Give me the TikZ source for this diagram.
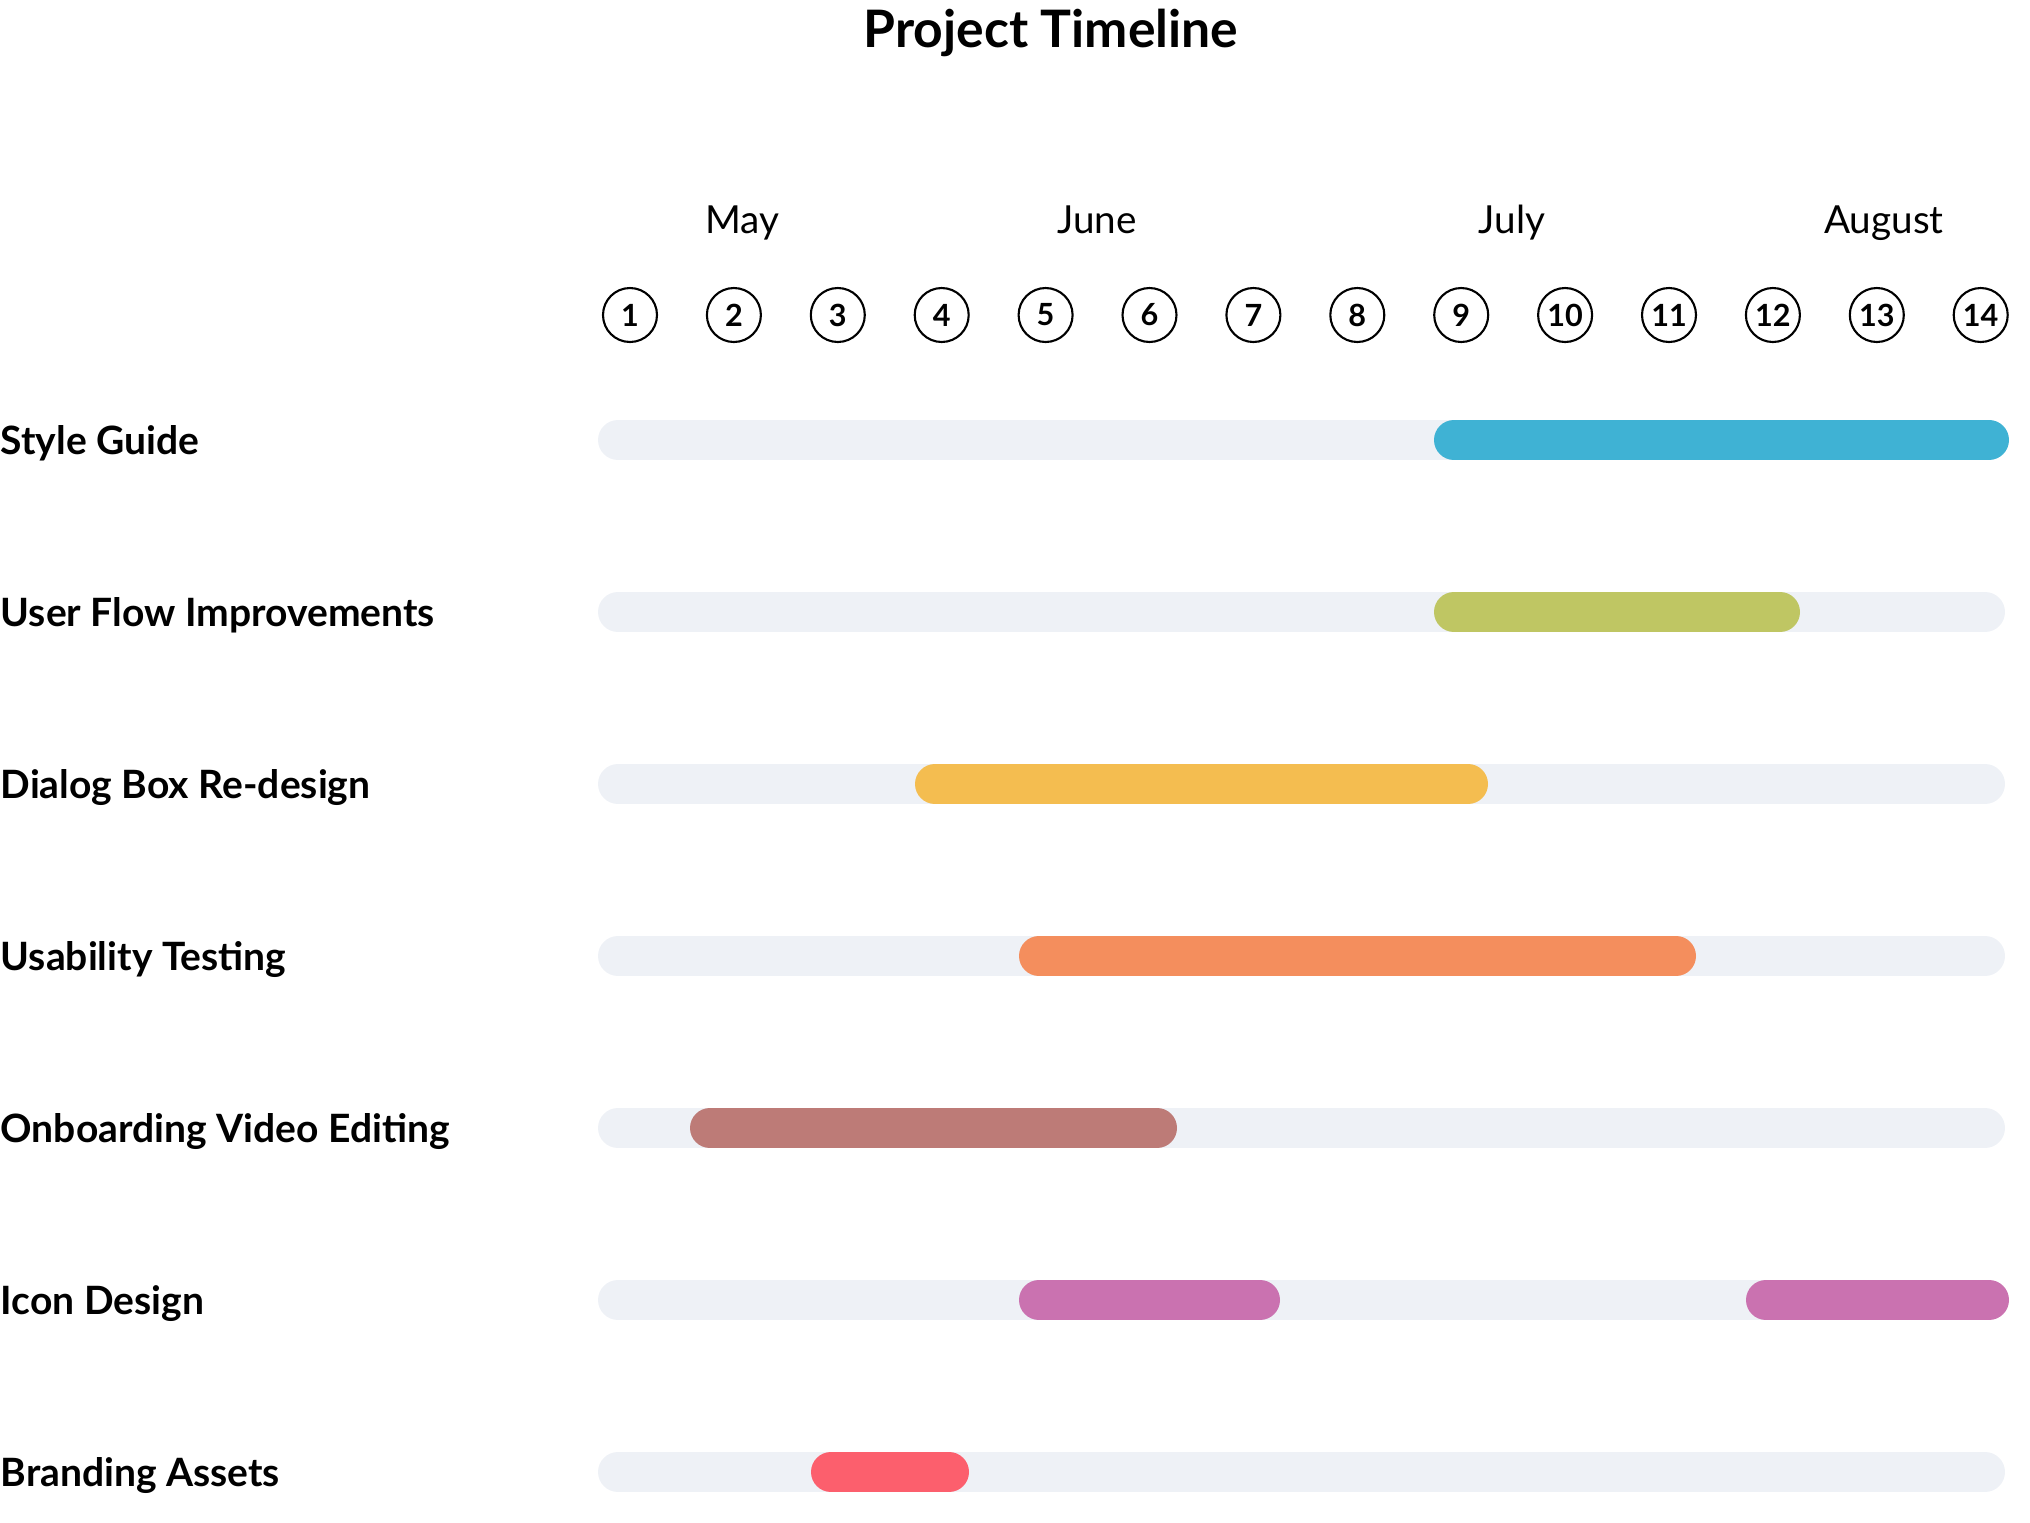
\documentclass[tikz,border=0pt]{standalone}
\usepackage{fontspec}
\setmainfont{Lato}
\definecolor{trackgray}{HTML}{EEF1F6}
\definecolor{sgblue}{HTML}{3FB2D4}
\definecolor{ufgreen}{HTML}{BFC663}
\definecolor{dbyellow}{HTML}{F4BD50}
\definecolor{utorange}{HTML}{F48E5D}
\definecolor{ovbrown}{HTML}{BD7B77}
\definecolor{idpink}{HTML}{CA72B0}
\definecolor{bared}{HTML}{FC5F6D}

\begin{document}
\begin{tikzpicture}[x=0.1mm,y=-0.1mm,
	week/.style={draw,shape=circle,line width=0.6pt,minimum size=5.4mm,inner sep=0pt,font=\bfseries\fontsize{8.7}{10}\selectfont},
	month/.style={anchor=base,font=\fontsize{11}{13}\selectfont},
	task/.style={anchor=base west,inner sep=0pt,font=\bfseries\fontsize{11.1}{14}\selectfont},
	track/.style={line width=4mm,line cap=round,color=trackgray},
	bar/.style={line width=4mm,line cap=round}]
	\useasboundingbox (0,0) rectangle (2030,1522);
	\draw (1051,33) node (title) [font=\bfseries\fontsize{14.7}{17}\selectfont] {Project Timeline};
	
	\draw (742,233) node (may) [month] {May};
	\draw (1097,233) node (june) [month] {June};
	\draw (1512,233) node (july) [month] {July};
	\draw (1884,233) node (aug) [month] {August};
	
	\draw (630,315) node (w1) [week] {1};
	\draw (733.9,315) node (w2) [week] {2};
	\draw (837.8,315) node (w3) [week] {3};
	\draw (941.7,315) node (w4) [week] {4};
	\draw (1045.6,315) node (w5) [week] {5};
	\draw (1149.5,315) node (w6) [week] {6};
	\draw (1253.4,315) node (w7) [week] {7};
	\draw (1357.3,315) node (w8) [week] {8};
	\draw (1461.2,315) node (w9) [week] {9};
	\draw (1565.1,315) node (w10) [week] {10};
	\draw (1669,315) node (w11) [week] {11};
	\draw (1772.9,315) node (w12) [week] {12};
	\draw (1876.8,315) node (w13) [week] {13};
	\draw (1980.7,315) node (w14) [week] {14};
	
	\draw (0,454) node (t1) [task] {Style Guide};
	\draw (0,626) node (t2) [task] {User Flow Improvements};
	\draw (0,798) node (t3) [task] {Dialog Box Re-design};
	\draw (0,970) node (t4) [task] {Usability Testing};
	\draw (0,1142) node (t5) [task] {Onboarding Video Editing};
	\draw (0,1314) node (t6) [task] {Icon Design};
	\draw (0,1486) node (t7) [task] {Branding Assets};
	
	% tracks
	\draw[track] (618,440) -- (1985,440);
	\draw[track] (618,612) -- (1985,612);
	\draw[track] (618,784) -- (1985,784);
	\draw[track] (618,956) -- (1985,956);
	\draw[track] (618,1128) -- (1985,1128);
	\draw[track] (618,1300) -- (1985,1300);
	\draw[track] (618,1472) -- (1985,1472);
	
	% bars
	\draw[bar,sgblue] (1454,440) -- (1989,440);
	\draw[bar,ufgreen] (1454,612) -- (1780,612);
	\draw[bar,dbyellow] (935,784) -- (1468,784);
	\draw[bar,utorange] (1039,956) -- (1676,956);
	\draw[bar,ovbrown] (710,1128) -- (1157,1128);
	\draw[bar,idpink] (1039,1300) -- (1260,1300);
	\draw[bar,idpink] (1766,1300) -- (1989,1300);
	\draw[bar,bared] (831,1472) -- (949,1472);
\end{tikzpicture}
\end{document}
